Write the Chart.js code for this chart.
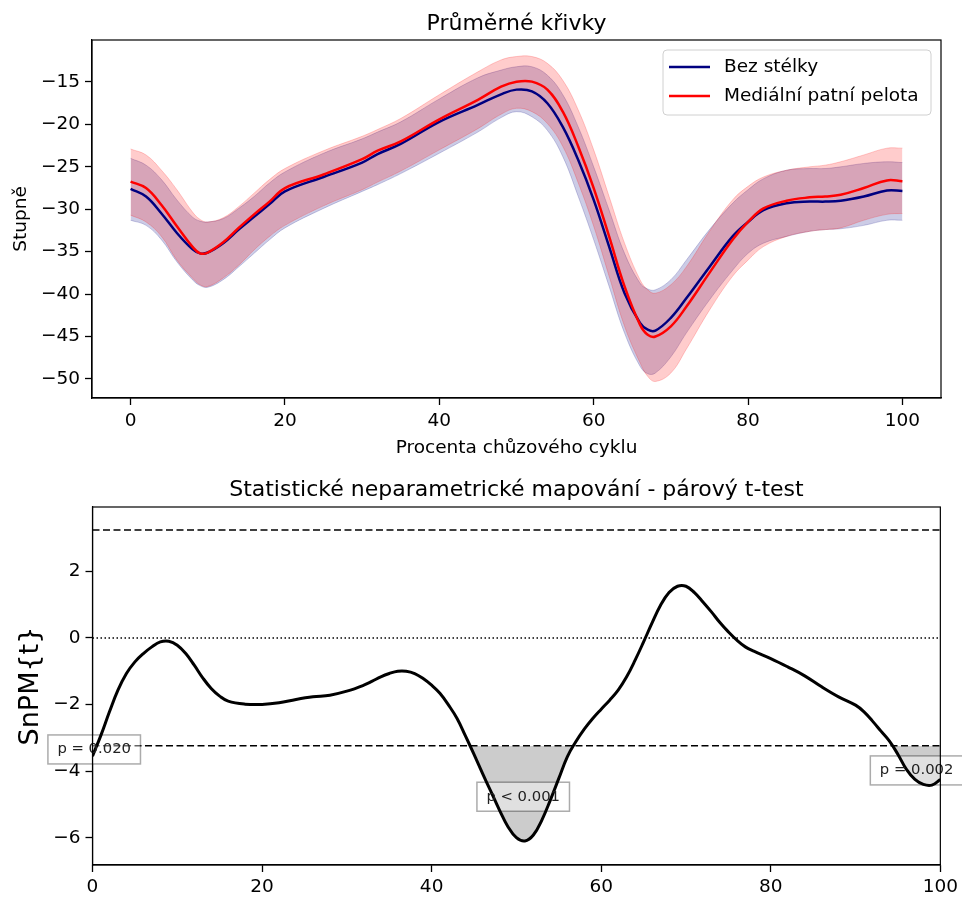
<!DOCTYPE html>
<html>
<head>
<meta charset="utf-8">
<script src="https://cdn.jsdelivr.net/npm/chart.js@4.4.1/dist/chart.umd.min.js"></script>
<style>
  body { margin: 0; background: #fff; }
  canvas { position: absolute; left: 0; }
  #prumer { top: 0; }
  #snpm { top: 465px; }
</style>
</head>
<body>
<canvas id="prumer" width="962" height="465"></canvas>
<canvas id="snpm" width="962" height="432"></canvas>
<script>
// --- horni graf: prumerne krivky (stupne) ---
const topPct = [0, 2, 4, 6, 8, 9, 10, 12, 14, 16, 18, 20, 25, 30, 32, 35, 40, 45, 48, 50, 52, 54, 56, 58, 60, 62, 64, 66, 67, 68, 70, 72, 75, 78, 80, 82, 85, 88, 90, 92, 95, 98, 100];
const bezMean = [-27.6, -28.5, -30.5, -32.8, -34.7, -35.2, -35.1, -34.0, -32.4, -30.9, -29.4, -27.9, -26.2, -24.5, -23.5, -22.3, -19.7, -17.7, -16.45, -15.9, -16.1, -17.5, -20.3, -24.2, -28.9, -34.4, -39.9, -43.4, -44.2, -44.3, -42.8, -40.5, -36.8, -33.2, -31.5, -30.1, -29.3, -29.1, -29.1, -29.0, -28.5, -27.8, -27.85];
const bezUpper = [-24.0, -24.8, -26.5, -28.9, -30.9, -31.4, -31.5, -31.1, -29.9, -28.5, -26.9, -25.6, -23.4, -21.7, -20.9, -19.7, -17.0, -14.5, -13.6, -13.2, -13.2, -14.2, -16.5, -20.3, -25.0, -30.1, -35.2, -38.7, -39.4, -39.5, -38.3, -36.0, -32.4, -29.3, -27.7, -26.4, -25.4, -25.2, -25.2, -25.0, -24.6, -24.4, -24.5];
const bezLower = [-31.3, -31.9, -33.6, -36.2, -38.3, -39.0, -39.2, -38.3, -36.8, -35.2, -33.6, -32.2, -29.9, -27.9, -27.1, -25.8, -23.4, -20.9, -19.2, -18.5, -19.1, -20.7, -23.8, -28.5, -33.6, -39.1, -44.6, -48.5, -49.4, -49.3, -47.4, -44.6, -40.7, -37.2, -35.2, -34.0, -33.2, -32.6, -32.4, -32.3, -31.9, -31.3, -31.3];
const medMean = [-26.75, -27.5, -29.5, -32.0, -34.4, -35.2, -35.1, -33.9, -32.2, -30.6, -29.1, -27.5, -25.9, -24.1, -23.1, -22.0, -19.4, -17.1, -15.55, -14.96, -14.96, -15.9, -18.5, -22.6, -27.5, -33.2, -39.1, -43.6, -44.8, -45.0, -43.8, -41.5, -37.5, -33.6, -31.5, -29.9, -29.0, -28.6, -28.5, -28.3, -27.5, -26.6, -26.7];
const medUpper = [-22.9, -23.6, -25.4, -27.7, -30.3, -31.2, -31.5, -31.0, -29.7, -28.1, -26.5, -25.2, -23.1, -21.4, -20.6, -19.3, -16.5, -13.8, -12.4, -12.0, -12.0, -12.8, -14.8, -18.3, -23.0, -28.5, -34.0, -38.3, -39.5, -39.9, -38.9, -36.8, -32.6, -28.9, -27.3, -26.2, -25.4, -25.0, -24.8, -24.4, -23.6, -22.8, -22.8];
const medLower = [-30.7, -31.5, -33.2, -36.0, -38.1, -38.9, -39.1, -38.1, -36.6, -34.8, -33.2, -31.9, -29.6, -27.7, -26.8, -25.5, -23.0, -20.5, -18.8, -18.1, -18.5, -19.9, -22.6, -26.9, -32.0, -37.9, -43.8, -48.1, -49.7, -50.3, -49.3, -46.5, -41.9, -37.9, -36.0, -34.4, -33.2, -32.6, -32.4, -32.2, -31.3, -30.6, -30.5];
const seriesNames = ['Bez stélky', 'Mediální patní pelota'];
const pctTicks = [0, 20, 40, 60, 80, 100];
const degTicks = [-50, -45, -40, -35, -30, -25, -20, -15];

// --- dolni graf: SnPM{t} ---
const snpmPct = [0, 1, 2, 3, 4, 5, 6, 7, 8, 9, 10, 11, 12, 13, 14, 15, 16, 18, 20, 22, 24, 26, 28, 30, 32, 33, 34, 35, 36, 37, 38, 39, 40, 41, 42, 43, 44, 45, 46, 47, 48, 49, 50, 51, 52, 53, 54, 55, 56, 57, 58, 59, 60, 61, 62, 63, 64, 65, 66, 67, 68, 69, 70, 71, 72, 73, 74, 75, 76, 77, 78, 80, 82, 84, 86, 88, 90, 91, 92, 93, 94, 95, 96, 97, 98, 99, 100];
const snpmT = [-3.55, -2.92, -2.22, -1.57, -1.07, -0.72, -0.47, -0.27, -0.12, -0.10, -0.22, -0.47, -0.82, -1.2, -1.52, -1.75, -1.9, -1.99, -2.0, -1.95, -1.85, -1.77, -1.72, -1.6, -1.42, -1.3, -1.17, -1.07, -1.0, -1.0, -1.07, -1.22, -1.42, -1.67, -2.02, -2.42, -2.95, -3.5, -4.07, -4.62, -5.17, -5.67, -6.0, -6.1, -5.92, -5.47, -4.87, -4.22, -3.57, -3.12, -2.74, -2.42, -2.14, -1.87, -1.57, -1.17, -0.67, -0.12, 0.45, 0.98, 1.36, 1.55, 1.55, 1.36, 1.08, 0.78, 0.46, 0.18, -0.07, -0.27, -0.40, -0.62, -0.87, -1.14, -1.47, -1.77, -2.02, -2.22, -2.5, -2.8, -3.1, -3.5, -3.95, -4.25, -4.4, -4.42, -4.25];
const tCrit = 3.24;
const snpmRange = [0, 100];
const tTicks = [-6, -4, -2, 0, 2];
const clusterText = ['p = 0.020', 'p < 0.001', 'p = 0.002'];
const clusterPct = [0.2, 50.8, 97.2];
const clusterT = [-3.35, -4.77, -3.98];

Chart.defaults.font.family = "'DejaVu Sans', sans-serif";
Chart.defaults.color = '#000';

const pts = (xs, ys) => xs.map((x, i) => ({ x: x, y: ys[i] }));
const minus = v => (v < 0 ? '\u2212' + Math.abs(v) : String(v));

function frameAndTitle(text, baseline) {
  return {
    id: 'frameAndTitle',
    afterDraw(chart) {
      const { ctx, chartArea: a } = chart;
      ctx.save();
      ctx.strokeStyle = '#000';
      ctx.lineWidth = 1.2;
      ctx.strokeRect(a.left, a.top, a.right - a.left, a.bottom - a.top);
      ctx.font = "22px 'DejaVu Sans'";
      ctx.fillStyle = '#000';
      ctx.textAlign = 'center';
      ctx.textBaseline = 'alphabetic';
      ctx.fillText(text, (a.left + a.right) / 2, baseline);
      ctx.restore();
    }
  };
}

function axis(opts) {
  return {
    type: 'linear',
    min: opts.min,
    max: opts.max,
    afterBuildTicks: s => { s.ticks = opts.ticks.map(v => ({ value: v })); },
    afterFit: opts.fit,
    grid: { display: true, drawOnChartArea: false, drawTicks: true, tickLength: 7, tickWidth: 1.3, tickColor: '#000' },
    border: { display: true, color: '#000', width: 1.2 },
    ticks: { font: { size: 18.5 }, color: '#000', padding: opts.pad, maxRotation: 0, autoSkip: false, callback: minus },
    title: opts.title
  };
}

// legenda uvnitr grafu
const topLegend = {
  id: 'topLegend',
  afterDraw(chart) {
    const { ctx, chartArea: a } = chart;
    const w = 268, h = 65;
    const x0 = a.right - 10 - w, y0 = a.top + 10;
    ctx.save();
    ctx.beginPath();
    ctx.roundRect(x0, y0, w, h, 4);
    ctx.fillStyle = 'rgba(255,255,255,0.8)';
    ctx.fill();
    ctx.strokeStyle = '#d0d0d0';
    ctx.lineWidth = 1;
    ctx.stroke();
    const colors = ['#000080', '#ff0000'];
    ctx.font = "18.5px 'DejaVu Sans'";
    ctx.textBaseline = 'middle';
    seriesNames.forEach((name, i) => {
      const y = y0 + 17 + i * 29;
      ctx.strokeStyle = colors[i];
      ctx.lineWidth = 2.5;
      ctx.beginPath();
      ctx.moveTo(x0 + 6, y);
      ctx.lineTo(x0 + 47, y);
      ctx.stroke();
      ctx.fillStyle = '#000';
      ctx.fillText(name, x0 + 61, y);
    });
    ctx.restore();
  }
};

const line = (label, ys, color) => ({
  label: label, data: pts(topPct, ys), borderColor: color, borderWidth: 2.5,
  pointRadius: 0, fill: false, tension: 0.4
});
const band = (ys, color, fill) => ({
  data: pts(topPct, ys), borderColor: color, borderWidth: 1, backgroundColor: color,
  pointRadius: 0, fill: fill, tension: 0.4
});

new Chart(document.getElementById('prumer'), {
  type: 'line',
  data: {
    datasets: [
      line(seriesNames[1], medMean, '#ff0000'),
      line(seriesNames[0], bezMean, '#000080'),
      band(medUpper, 'rgba(255,0,0,0.2)', '+1'),
      band(medLower, 'rgba(255,0,0,0.2)', false),
      band(bezUpper, 'rgba(0,0,128,0.2)', '+1'),
      band(bezLower, 'rgba(0,0,128,0.2)', false)
    ]
  },
  options: {
    responsive: false,
    animation: false,
    devicePixelRatio: 1,
    layout: { padding: { top: 40, right: 21, left: 0, bottom: 0 } },
    plugins: { legend: { display: false }, tooltip: { enabled: false } },
    scales: {
      x: axis({
        min: -5, max: 105, ticks: pctTicks, pad: 5,
        fit: s => { s.height = 67; },
        title: { display: true, text: 'Procenta chůzového cyklu', font: { size: 18.5 }, color: '#000', padding: { top: 0, bottom: 6 } }
      }),
      y: axis({
        min: -52.25, max: -10.05, ticks: degTicks, pad: 5,
        fit: s => { s.width = 92; },
        title: { display: true, text: 'Stupně', font: { size: 18.5 }, color: '#000', padding: { top: 10, bottom: 0 } }
      })
    }
  },
  plugins: [frameAndTitle('Průměrné křivky', 30), topLegend]
});

// p-hodnoty shluku
const clusterLabels = {
  id: 'clusterLabels',
  beforeDatasetDraw(chart, args) {
    if (args.index !== 0) return;
    const { ctx, scales } = chart;
    ctx.save();
    ctx.font = "14.8px 'DejaVu Sans'";
    clusterText.forEach((t, i) => {
      const cx = scales.x.getPixelForValue(clusterPct[i]);
      const cy = scales.y.getPixelForValue(clusterT[i]);
      const w = ctx.measureText(t).width + 19, h = 29;
      ctx.fillStyle = 'rgba(255,255,255,0.4)';
      ctx.fillRect(cx - w / 2, cy - h / 2, w, h);
      ctx.strokeStyle = 'rgba(0,0,0,0.33)';
      ctx.lineWidth = 1.5;
      ctx.strokeRect(cx - w / 2, cy - h / 2, w, h);
    });
    ctx.restore();
  },
  afterDatasetsDraw(chart) {
    const { ctx, scales } = chart;
    ctx.save();
    ctx.font = "14.8px 'DejaVu Sans'";
    ctx.fillStyle = '#222';
    ctx.textAlign = 'center';
    ctx.textBaseline = 'middle';
    clusterText.forEach((t, i) => {
      ctx.fillText(t, scales.x.getPixelForValue(clusterPct[i]), scales.y.getPixelForValue(clusterT[i]));
    });
    ctx.restore();
  }
};

const hline = (y, dash, width) => ({
  data: pts(snpmRange, [y, y]), borderColor: '#000', borderWidth: width,
  borderDash: dash, pointRadius: 0, fill: false
});

new Chart(document.getElementById('snpm'), {
  type: 'line',
  data: {
    datasets: [
      {
        data: pts(snpmPct, snpmT), borderColor: '#000', borderWidth: 3, pointRadius: 0,
        tension: 0.4,
        fill: { target: { value: -tCrit }, above: 'rgba(0,0,0,0)', below: '#cccccc' }
      },
      hline(tCrit, [7, 3.5], 1.5),
      hline(-tCrit, [7, 3.5], 1.5),
      hline(0, [1.5, 2.5], 1.5)
    ]
  },
  options: {
    responsive: false,
    animation: false,
    devicePixelRatio: 1,
    layout: { padding: { top: 42, right: 21, left: 0, bottom: 0 } },
    plugins: { legend: { display: false }, tooltip: { enabled: false }, filler: { drawTime: 'beforeDatasetsDraw' } },
    scales: {
      x: axis({
        min: 0, max: 100, ticks: pctTicks, pad: 4,
        fit: s => { s.height = 32; },
        title: { display: false }
      }),
      y: axis({
        min: -6.82, max: 3.93, ticks: tTicks, pad: 5,
        fit: s => { s.width = 92.5; },
        title: { display: true, text: 'SnPM{t}', font: { size: 27 }, color: '#000', padding: { top: 15, bottom: 0 } }
      })
    }
  },
  plugins: [frameAndTitle('Statistické neparametrické mapování - párový t-test', 30.5), clusterLabels]
});
</script>
</body>
</html>
